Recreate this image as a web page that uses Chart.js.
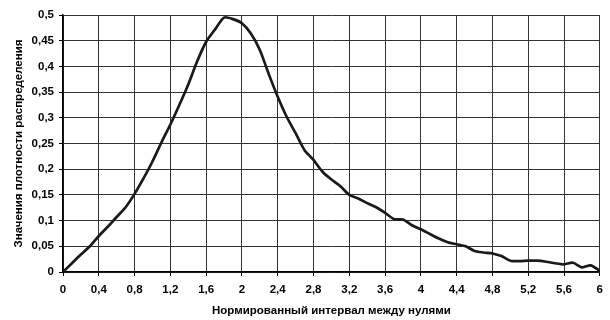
<!DOCTYPE html>
<html>
<head>
<meta charset="utf-8">
<script src="https://cdn.jsdelivr.net/npm/chart.js@4/dist/chart.umd.min.js"></script>
<style>
  html, body { margin: 0; padding: 0; background: #fff; }
</style>
</head>
<body>
<canvas id="myChart" width="610" height="320"></canvas>
<script>
// Нормированный интервал (шаг 0,1)
const intervals = [
  0, 0.1, 0.2, 0.3, 0.4, 0.5, 0.6, 0.7, 0.8, 0.9,
  1.0, 1.1, 1.2, 1.3, 1.4, 1.5, 1.6, 1.7, 1.8, 1.9,
  2.0, 2.1, 2.2, 2.3, 2.4, 2.5, 2.6, 2.7, 2.8, 2.9,
  3.0, 3.1, 3.2, 3.3, 3.4, 3.5, 3.6, 3.7, 3.8, 3.9,
  4.0, 4.1, 4.2, 4.3, 4.4, 4.5, 4.6, 4.7, 4.8, 4.9,
  5.0, 5.1, 5.2, 5.3, 5.4, 5.5, 5.6, 5.7, 5.8, 5.9, 6.0
];

// Значения плотности распределения
const density = [
  0, 0.017, 0.034, 0.05, 0.07, 0.088, 0.107, 0.126, 0.152, 0.182,
  0.215, 0.252, 0.287, 0.325, 0.365, 0.41, 0.448, 0.472, 0.495, 0.492,
  0.484, 0.464, 0.432, 0.385, 0.341, 0.302, 0.27, 0.237, 0.218, 0.195,
  0.18, 0.167, 0.15, 0.143, 0.134, 0.126, 0.115, 0.103, 0.102, 0.091,
  0.083, 0.074, 0.065, 0.058, 0.054, 0.05, 0.041, 0.038, 0.036, 0.031,
  0.022, 0.021, 0.022, 0.022, 0.02, 0.017, 0.015, 0.018, 0.009, 0.013, 0.002
];

const xTitle = 'Нормированный интервал между нулями';
const yTitle = 'Значения плотности распределения';

const points = intervals.map((x, i) => ({ x: x, y: density[i] }));

const fmt = v => Number(v.toFixed(2)).toString().replace('.', ',');

const tickFont = { family: '"Liberation Sans", Arial, sans-serif', size: 11.5, weight: 'bold' };
const titleFont = { family: '"Liberation Sans", Arial, sans-serif', size: 11.5, weight: 'bold' };

let ctx = document.getElementById('myChart').getContext('2d');

let myChart = new Chart(ctx, {
  type: 'line',
  data: {
    datasets: [{
      data: points,
      borderColor: '#1a1a1a',
      borderWidth: 2.7,
      pointRadius: 0,
      tension: 0.25,
      fill: false
    }]
  },
  options: {
    responsive: false,
    animation: false,
    layout: { padding: { left: 0, right: 9, top: 15, bottom: 0 } },
    plugins: {
      legend: { display: false },
      tooltip: { enabled: false }
    },
    scales: {
      x: {
        type: 'linear',
        min: 0,
        max: 6,
        afterFit: scale => { scale.height = 48; },
        ticks: {
          stepSize: 0.4,
          color: '#000',
          font: tickFont,
          padding: 7,
          maxRotation: 0,
          autoSkip: false,
          callback: v => fmt(v)
        },
        grid: { color: '#333', lineWidth: 1, tickLength: 4, tickColor: '#000' },
        border: { color: '#000', width: 1.5 },
        title: {
          display: true,
          text: xTitle,
          color: '#000',
          font: titleFont,
          padding: { top: 0, bottom: 2 }
        }
      },
      y: {
        min: 0,
        max: 0.5,
        afterFit: scale => { scale.width = 63; },
        ticks: {
          stepSize: 0.05,
          color: '#000',
          font: tickFont,
          padding: 5,
          callback: v => fmt(v)
        },
        grid: { color: '#333', lineWidth: 1, tickLength: 4, tickColor: '#000' },
        border: { color: '#000', width: 1.5 },
        title: {
          display: true,
          text: yTitle,
          color: '#000',
          font: titleFont,
          padding: { top: 12, bottom: 0 }
        }
      }
    }
  }
});
</script>
</body>
</html>
